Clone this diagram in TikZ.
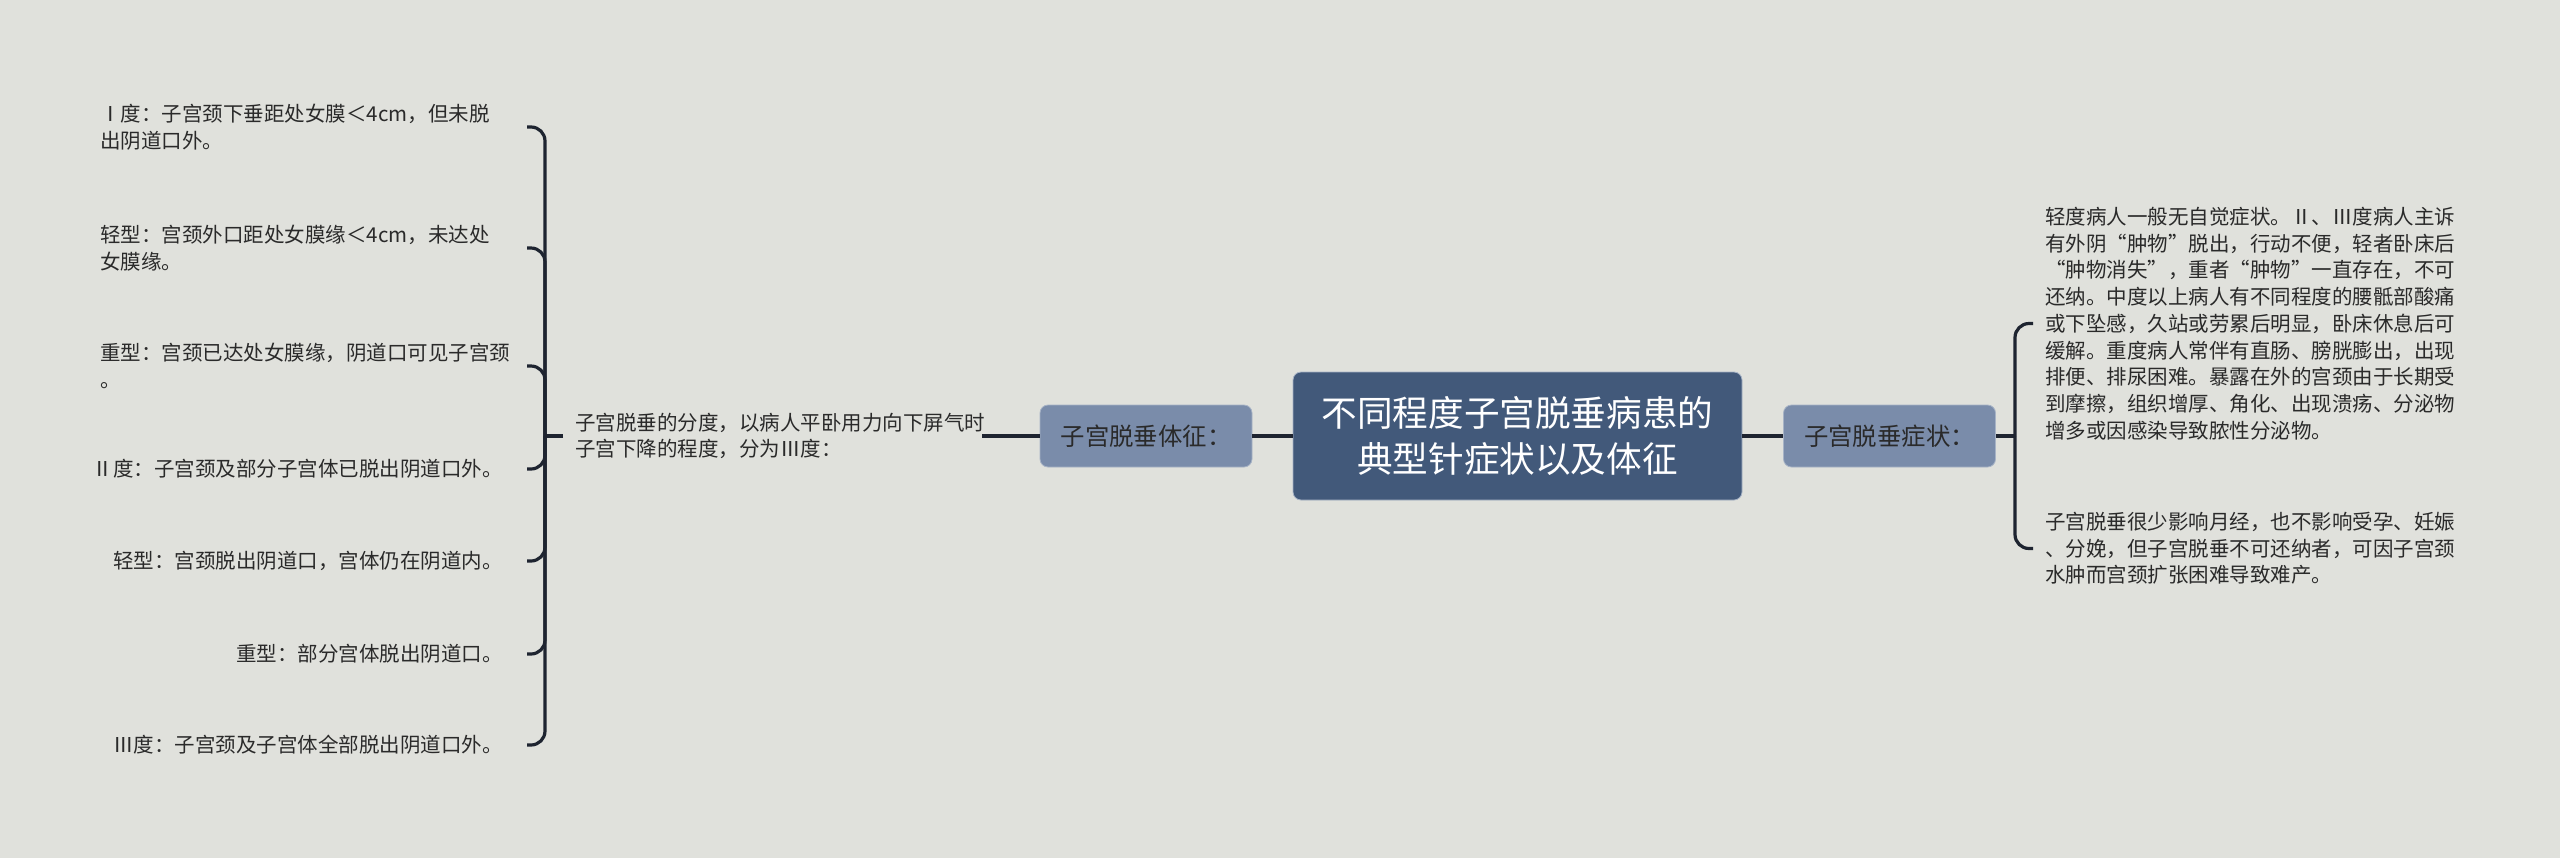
\documentclass[tikz,border=0pt]{standalone}
\usepackage{fontspec}
\setmainfont{Noto Sans CJK SC}
\definecolor{bgc}{HTML}{E0E1DC}
\definecolor{rootc}{HTML}{42597A}
\definecolor{subc}{HTML}{7A8CAA}
\definecolor{subline}{HTML}{A7B3C6}
\definecolor{linec}{HTML}{1E2430}
\definecolor{txtc}{HTML}{2A2A2A}
\tikzset{
  rootbox/.style={fill=rootc, draw=subline, line width=0.4pt, rounded corners=4pt, minimum width=224.5pt, minimum height=64pt, text=white, align=center, inner sep=0pt, font=\fontsize{17.8pt}{23pt}\selectfont},
  subbox/.style={fill=subc, draw=subline, line width=0.4pt, rounded corners=4pt, minimum width=106pt, minimum height=31pt, text=txtc, inner sep=0pt, font=\fontsize{12.2pt}{15pt}\selectfont},
  small/.style={inner sep=0pt, text=txtc, align=left, font=\fontsize{10.25pt}{13.35pt}\selectfont},
  smallr/.style={inner sep=0pt, text=txtc, align=right, font=\fontsize{10.25pt}{13.35pt}\selectfont},
  conn/.style={draw=linec, line width=1.6pt},
  bconn/.style={draw=linec, line width=1.6pt, rounded corners=7pt}
}
\begin{document}
\begin{tikzpicture}[x=0.5pt,y=-0.5pt]
\fill[bgc] (0,0) rectangle (2560,858);
\useasboundingbox (0,0) rectangle (2560,858);

% main nodes
\node[rootbox] (root) at (1517.5,436) {不同程度子宫脱垂病患的\\典型针症状以及体征};
\node[subbox] (lbox) at (1146,436) {子宫脱垂体征：};
\node[subbox] (rbox) at (1889.5,436) {子宫脱垂症状：};

% middle left text
\node[small, anchor=west] (mid) at (575,436) {子宫脱垂的分度，以病人平卧用力向下屏气时\\子宫下降的程度，分为Ⅲ度：};

% left leaves
\node[small, anchor=west] (l1) at (100,127) {Ⅰ度：子宫颈下垂距处女膜＜4cm，但未脱\\出阴道口外。};
\node[small, anchor=west] (l2) at (100,248) {轻型：宫颈外口距处女膜缘＜4cm，未达处\\女膜缘。};
\node[small, anchor=west] (l3) at (100,366) {重型：宫颈已达处女膜缘，阴道口可见子宫颈\\。};
\node[smallr, anchor=east] (l4) at (503,469) {Ⅱ度：子宫颈及部分子宫体已脱出阴道口外。};
\node[smallr, anchor=east] (l5) at (503,561) {轻型：宫颈脱出阴道口，宫体仍在阴道内。};
\node[smallr, anchor=east] (l6) at (503,654) {重型：部分宫体脱出阴道口。};
\node[smallr, anchor=east] (l7) at (503,745) {Ⅲ度：子宫颈及子宫体全部脱出阴道口外。};

% right leaves
\node[small, anchor=west] (r1) at (2045,323.5) {轻度病人一般无自觉症状。Ⅱ、Ⅲ度病人主诉\\有外阴“肿物”脱出，行动不便，轻者卧床后\\“肿物消失”，重者“肿物”一直存在，不可\\还纳。中度以上病人有不同程度的腰骶部酸痛\\或下坠感，久站或劳累后明显，卧床休息后可\\缓解。重度病人常伴有直肠、膀胱膨出，出现\\排便、排尿困难。暴露在外的宫颈由于长期受\\到摩擦，组织增厚、角化、出现溃疡、分泌物\\增多或因感染导致脓性分泌物。};
\node[small, anchor=west] (r2) at (2045,548.5) {子宫脱垂很少影响月经，也不影响受孕、妊娠\\、分娩，但子宫脱垂不可还纳者，可因子宫颈\\水肿而宫颈扩张困难导致难产。};

% connector anchor coordinates
\coordinate (mj) at (563,436);
\coordinate (lj) at (545,436);
\coordinate (t1) at (527,127);
\coordinate (t2) at (527,248);
\coordinate (t3) at (527,366);
\coordinate (t4) at (527,469);
\coordinate (t5) at (527,561);
\coordinate (t6) at (527,654);
\coordinate (t7) at (527,745);
\coordinate (rj) at (2015,436);
\coordinate (s1) at (2033,323.5);
\coordinate (s2) at (2033,548.5);

% connectors
\draw[conn] (root.west) -- (lbox.east);
\draw[conn] (root.east) -- (rbox.west);
\draw[conn] (lbox.west) -- ([xshift=-2pt]mid.east);
\draw[conn] (mj) -- (lj);
\foreach \t in {t1,t2,t3,t4,t5,t6,t7} {
  \draw[bconn] (lj) |- (\t);
}
\draw[conn] (rbox.east) -- (rj);
\draw[bconn] (rj) |- (s1);
\draw[bconn] (rj) |- (s2);
\end{tikzpicture}
\end{document}
